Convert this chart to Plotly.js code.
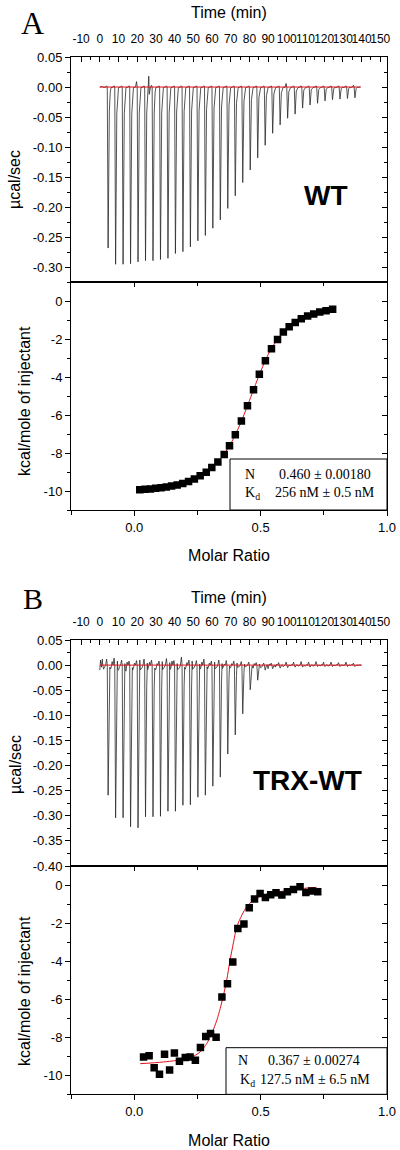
<!DOCTYPE html>
<html><head><meta charset="utf-8">
<script src="https://cdn.plot.ly/plotly-3.0.1.min.js"></script>
<style>html,body{margin:0;padding:0;background:#fff}#chart{width:400px;height:1150px}</style>
</head><body><div id="chart"></div>
<script>
// ---------- DATA ----------
// Panel A (WT) thermogram: injection times (min) and peak heights (µcal/sec)
const injTimesA = [4,8,12,16,20,24,28,32,36,40,44,48,52,56,60,64,68,72,76,80,84,88,92,96,100,104,108,112,116,120,124,128,132,136];
const peaksA = [-0.268,-0.295,-0.295,-0.294,-0.291,-0.289,-0.289,-0.287,-0.285,-0.277,-0.274,-0.266,-0.256,-0.247,-0.235,-0.221,-0.202,-0.181,-0.159,-0.138,-0.118,-0.097,-0.077,-0.063,-0.052,-0.045,-0.035,-0.030,-0.027,-0.023,-0.021,-0.020,-0.019,-0.018];
const preA = [0.002,0.002,0.002,0.002,0.009,0.002,0.003,0.002,0.002,0.002,0.002,0.002,0.002,0.002,0.002,0.002,0.002,0.002,0.002,0.002,0.002,0.002,0.002,0.002,0.006,0.002,0.002,0.002,0.002,0.002,0.002,0.002,0.002,0.003];
const midA = [-0.001,-0.001,-0.001,-0.001,-0.001,-0.001,-0.001,-0.001,-0.001,-0.001,-0.001,-0.001,-0.001,-0.001,-0.001,-0.001,-0.001,-0.001,-0.001,-0.001,-0.001,-0.001,-0.001,-0.001,-0.001,-0.001,-0.001,-0.001,-0.001,-0.001,-0.001,-0.001,-0.001,-0.001];
const startTA = [0, 1.5];
const startVA = [0.000, 0.001];
const artifactTA = [26.2, 26.45, 26.7];
const artifactVA = [0.018, -0.012, 0.000];
const endTA = 139.5;
const baselineTA = [0, 139.5];
const baselineVA = [0, 0];

// Panel A isotherm
const molarA = [0.022,0.043,0.064,0.085,0.106,0.127,0.148,0.170,0.192,0.215,0.238,0.261,0.285,0.307,0.331,0.356,0.377,0.400,0.424,0.448,0.472,0.495,0.519,0.543,0.567,0.590,0.613,0.637,0.661,0.686,0.710,0.734,0.759,0.785];
const heatA = [-9.93,-9.91,-9.89,-9.86,-9.83,-9.79,-9.74,-9.68,-9.60,-9.50,-9.36,-9.19,-9.01,-8.76,-8.47,-8.07,-7.62,-7.03,-6.31,-5.51,-4.66,-3.85,-3.13,-2.50,-2.01,-1.62,-1.34,-1.12,-0.92,-0.77,-0.67,-0.57,-0.50,-0.42];
const fitXA = [0.02,0.10,0.20,0.26,0.30,0.34,0.38,0.42,0.46,0.50,0.54,0.58,0.62,0.66,0.70,0.74,0.79];
const fitYA = [-9.92,-9.84,-9.57,-9.19,-8.84,-8.33,-7.55,-6.45,-5.09,-3.70,-2.55,-1.78,-1.27,-0.93,-0.71,-0.56,-0.41];

// Panel B (TRX-WT) thermogram
const injTimesB = [4,8,12,16,20,24,28,32,36,40,44,48,52,56,60,64,68,72,76,80,84,88,92,96,100,104,108,112,116,120,124,128,132,136];
const peaksB = [-0.259,-0.304,-0.304,-0.322,-0.324,-0.302,-0.302,-0.301,-0.291,-0.291,-0.279,-0.278,-0.263,-0.259,-0.241,-0.223,-0.177,-0.139,-0.097,-0.049,-0.030,-0.010,-0.007,-0.006,-0.005,-0.004,-0.004,-0.004,-0.003,-0.003,-0.003,-0.003,-0.003,-0.003];
const preB = [0.012,0.014,0.010,0.008,0.009,0.012,0.010,0.008,0.013,0.009,0.016,0.010,0.009,0.012,0.008,0.010,0.009,0.008,0.007,0.006,0.005,0.004,0.004,0.005,0.006,0.006,0.007,0.006,0.007,0.006,0.006,0.005,0.006,0.004];
const midB = [-0.008,-0.006,-0.010,-0.012,-0.006,-0.008,-0.005,-0.009,-0.007,-0.006,-0.008,-0.005,-0.007,-0.006,-0.005,-0.006,-0.004,-0.005,-0.004,-0.003,-0.006,-0.005,-0.007,-0.004,-0.003,-0.002,-0.002,-0.002,-0.002,-0.002,-0.002,-0.001,-0.001,-0.001];
const noise1B = [0.006,-0.004,0.008,0.003,-0.005,0.010,0.004,-0.006,0.007,0.005,0.003,-0.004,0.008,0.002,-0.003,0.006,0.003,-0.002,0.004,0.002,-0.003,0.002,0.001,-0.002,0.001,0.000,0.001,-0.001,0.001,0.000,0.001,-0.001,0.001,0.000];
const noise2B = [-0.004,0.007,-0.003,0.006,0.004,-0.005,0.006,0.003,-0.004,0.008,-0.006,0.005,-0.003,0.006,0.004,-0.004,0.002,0.003,-0.003,-0.002,0.003,-0.004,0.002,0.002,-0.002,0.001,-0.001,0.001,-0.001,0.001,-0.001,0.001,0.000,0.001];
const startTB = [0, 0.4, 0.9, 1.4];
const startVB = [-0.010, 0.010, -0.004, 0.012];
const artifactTB = [];
const artifactVB = [];
const endTB = 140;
const baselineTB = [0, 140];
const baselineVB = [0, 0];

// Panel B isotherm
const molarB = [0.037,0.059,0.079,0.100,0.120,0.140,0.159,0.179,0.202,0.221,0.242,0.262,0.283,0.302,0.324,0.347,0.369,0.390,0.410,0.434,0.455,0.476,0.498,0.519,0.540,0.561,0.584,0.606,0.630,0.656,0.679,0.702,0.726];
const heatB = [-9.04,-8.98,-9.61,-9.95,-8.89,-9.72,-8.83,-9.26,-9.07,-9.04,-9.21,-8.54,-7.96,-7.81,-8.00,-5.88,-5.19,-4.05,-2.28,-2.05,-1.19,-0.74,-0.44,-0.65,-0.51,-0.40,-0.53,-0.35,-0.23,-0.09,-0.39,-0.32,-0.35];
const fitXB = [0.024,0.116,0.221,0.261,0.287,0.307,0.327,0.340,0.353,0.366,0.379,0.393,0.406,0.426,0.445,0.472,0.511,0.577,0.643,0.722];
const fitYB = [-9.39,-9.30,-9.09,-8.77,-8.33,-7.80,-7.10,-6.50,-5.80,-5.00,-3.96,-3.00,-2.20,-1.58,-1.14,-0.79,-0.53,-0.35,-0.21,-0.12];

// Tick labels
const timeTicks = [-10,0,10,20,30,40,50,60,70,80,90,100,110,120,130,140,150];
const powerTicksA = [0.05,0.00,-0.05,-0.10,-0.15,-0.20,-0.25,-0.30];
const powerTicksB = [0.05,0.00,-0.05,-0.10,-0.15,-0.20,-0.25,-0.30,-0.35,-0.40];
const heatTicks = [0,-2,-4,-6,-8,-10];
const ratioTicks = [0.0,0.5,1.0];

// Texts
const fitTextA = {n:'0.460 ± 0.00180', kd:'256 nM ± 0.5 nM'};
const fitTextB = {n:'0.367 ± 0.00274', kd:'127.5 nM ± 6.5 nM'};

// ---------- BUILD ----------
function thermo(times, peaks, pre, mid, n1, n2, sT, sV, aT, aV, endT) {
  const pts = [];
  sT.forEach((t,i)=>pts.push([t, sV[i]]));
  times.forEach((t,i)=>{
    if (n1) pts.push([t-2.6, n1[i]]);
    pts.push([t-2.0, mid[i]]);
    if (n2) pts.push([t-1.4, n2[i]]);
    pts.push([t-0.9, 0]);
    pts.push([t-0.35, pre[i]]);
    pts.push([t, 0]);
    pts.push([t+0.45, peaks[i]]);
    pts.push([t+1.1, peaks[i]*0.15]);
    pts.push([t+1.6, peaks[i]*0.03]);
  });
  aT.forEach((t,i)=>pts.push([t, aV[i]]));
  pts.push([endT, 0]);
  pts.sort((a,b)=>a[0]-b[0]);
  return {x:pts.map(p=>p[0]), y:pts.map(p=>p[1])};
}
const tA = thermo(injTimesA, peaksA, preA, midA, null, null, startTA, startVA, artifactTA, artifactVA, endTA);
const tB = thermo(injTimesB, peaksB, preB, midB, noise1B, noise2B, startTB, startVB, artifactTB, artifactVB, endTB);

const FONT = 'Liberation Sans, Arial, sans-serif';
const SERIF = 'Liberation Serif, Times New Roman, serif';
const W = 400, H = 1150;
const px = v => v / W;
const py = v => 1 - v / H;
const XD = [px(71), px(387)];
const DOM = {
  aTop: [py(282.3), py(57)],
  aBot: [py(510), py(282.3)],
  bTop: [py(866), py(640)],
  bBot: [py(1094.3), py(866)]
};

const base = {showgrid:false, zeroline:false, showline:true, linecolor:'#000', linewidth:1,
  tickcolor:'#000', tickwidth:1, tickfont:{family:FONT, size:13, color:'#000'}, fixedrange:true, tickangle:0};
const titleFont = {family:FONT, size:16, color:'#000'};

function timeAxis(anchor) {
  return Object.assign({}, base, {domain:XD, anchor:anchor, side:'top', range:[-15.4,153.6],
    tickmode:'array', tickvals:timeTicks, ticktext:timeTicks.map(String),
    tickfont:{family:FONT, size:12, color:'#000'}, ticklabelstandoff:8,
    ticks:'inside', ticklen:5, mirror:true,
    minor:{tickmode:'linear', tick0:-10, dtick:5, ticks:'inside', ticklen:3, tickcolor:'#000'}});
}
function powerAxis(dom, anchor, ticks, range) {
  return Object.assign({}, base, {domain:dom, anchor:anchor, range:range,
    tickmode:'array', tickvals:ticks, ticktext:ticks.map(v=>v.toFixed(2)),
    ticks:'outside', ticklen:5, mirror:true,
    minor:{tickmode:'linear', tick0:0, dtick:0.025, ticks:'outside', ticklen:3, tickcolor:'#000'}});
}
function rightAxis(over, anchor, ticks, range, minorD) {
  return Object.assign({}, base, {overlaying:over, anchor:anchor, side:'right', range:range, showline:false,
    tickmode:'array', tickvals:ticks, ticks:'inside', ticklen:5, showticklabels:false,
    minor:{tickmode:'linear', tick0:0, dtick:minorD, ticks:'inside', ticklen:3, tickcolor:'#000'}});
}
function ratioAxis(anchor) {
  return Object.assign({}, base, {domain:XD, anchor:anchor, range:[-0.25,1.0],
    tickmode:'array', tickvals:ratioTicks, ticktext:ratioTicks.map(v=>v.toFixed(1)),
    ticks:'outside', ticklen:5, mirror:true,
    minor:{tickmode:'linear', tick0:0, dtick:0.25, ticks:'outside', ticklen:4, tickcolor:'#000'},
    title:{text:'Molar Ratio', font:titleFont, standoff:16}});
}
function topRatioAxis(over, anchor) {
  return Object.assign({}, base, {overlaying:over, anchor:anchor, side:'top', range:[-0.25,1.0], showline:false,
    tickmode:'array', tickvals:ratioTicks, ticks:'inside', ticklen:5, showticklabels:false,
    minor:{tickmode:'linear', tick0:0, dtick:0.25, ticks:'inside', ticklen:4, tickcolor:'#000'}});
}
function heatAxis(dom, anchor) {
  return Object.assign({}, base, {domain:dom, anchor:anchor, range:[-11,1],
    tickmode:'array', tickvals:heatTicks, ticktext:heatTicks.map(v=>String(v)),
    ticks:'outside', ticklen:5, mirror:true,
    minor:{tickmode:'linear', tick0:0, dtick:1, ticks:'outside', ticklen:3, tickcolor:'#000'}});
}

function txt(text, x, y, font, extra) {
  return Object.assign({text:text, xref:'paper', yref:'paper', x:px(x), y:py(y), xanchor:'center', yanchor:'middle',
    showarrow:false, font:font}, extra || {});
}
const serif14 = {family:SERIF, size:14, color:'#000'};

const layout = {
  width:W, height:H, autosize:false, showlegend:false,
  margin:{l:0, r:0, t:0, b:0, pad:0},
  paper_bgcolor:'#fff', plot_bgcolor:'rgba(0,0,0,0)',
  font:{family:FONT, color:'#000'},
  xaxis: timeAxis('y'),
  yaxis: powerAxis(DOM.aTop, 'x', powerTicksA, [-0.325,0.05]),
  yaxis5: rightAxis('y', 'x', powerTicksA, [-0.325,0.05], 0.025),
  xaxis2: ratioAxis('y2'),
  yaxis2: heatAxis(DOM.aBot, 'x2'),
  xaxis6: topRatioAxis('x2', 'y2'),
  yaxis6: rightAxis('y2', 'x2', heatTicks, [-11,1], 1),
  xaxis3: timeAxis('y3'),
  yaxis3: powerAxis(DOM.bTop, 'x3', powerTicksB, [-0.40,0.05]),
  yaxis7: rightAxis('y3', 'x3', powerTicksB, [-0.40,0.05], 0.025),
  xaxis4: ratioAxis('y4'),
  yaxis4: heatAxis(DOM.bBot, 'x4'),
  xaxis8: topRatioAxis('x4', 'y4'),
  yaxis8: rightAxis('y4', 'x4', heatTicks, [-11,1], 1),
  shapes: [
    {type:'rect', xref:'paper', yref:'paper', x0:px(230), x1:px(387), y0:py(510), y1:py(459),
     line:{color:'#000', width:1}, fillcolor:'#fff', layer:'above'},
    {type:'rect', xref:'paper', yref:'paper', x0:px(226), x1:px(387), y0:py(1094.3), y1:py(1047.7),
     line:{color:'#000', width:1}, fillcolor:'#fff', layer:'above'}
  ],
  annotations: [
    txt('A', 32, 23, {family:SERIF, size:32, color:'#000'}),
    txt('B', 33, 599, {family:SERIF, size:30, color:'#000'}),
    txt('Time (min)', 229, 13, titleFont),
    txt('Time (min)', 229, 597, titleFont),
    txt('<b>WT</b>', 326, 196, {family:FONT, size:28, color:'#000'}),
    txt('<b>TRX-WT</b>', 307, 780, {family:FONT, size:28, color:'#000'}),
    txt('µcal/sec', 15, 180, titleFont, {textangle:-90}),
    txt('kcal/mole of injectant', 24, 401, titleFont, {textangle:-90}),
    txt('µcal/sec', 15, 765, titleFont, {textangle:-90}),
    txt('kcal/mole of injectant', 24, 991, titleFont, {textangle:-90}),
    txt('N', 243, 474, serif14, {xanchor:'left'}),
    txt(fitTextA.n, 277, 474, serif14, {xanchor:'left'}),
    txt('K<sub>d</sub>', 243, 493, serif14, {xanchor:'left'}),
    txt(fitTextA.kd, 273, 492, serif14, {xanchor:'left'}),
    txt('N', 236, 1060.5, serif14, {xanchor:'left'}),
    txt(fitTextB.n, 266, 1060.5, serif14, {xanchor:'left'}),
    txt('K<sub>d</sub>', 238, 1080, serif14, {xanchor:'left'}),
    txt(fitTextB.kd, 258, 1079, serif14, {xanchor:'left'})
  ]
};

const red = '#e3101a';
const traces = [
  {type:'scatter', mode:'lines', x:tA.x, y:tA.y, xaxis:'x', yaxis:'y', line:{color:'#2a2a2a', width:0.8}, hoverinfo:'skip'},
  {type:'scatter', mode:'lines', x:baselineTA, y:baselineVA, xaxis:'x', yaxis:'y', line:{color:red, width:1}, hoverinfo:'skip'},
  {type:'scatter', mode:'lines', x:fitXA, y:fitYA, xaxis:'x2', yaxis:'y2', line:{color:red, width:1, shape:'spline', smoothing:0.8}},
  {type:'scatter', mode:'markers', x:molarA, y:heatA, xaxis:'x2', yaxis:'y2', marker:{symbol:'square', size:7.5, color:'#000'}},
  {type:'scatter', mode:'lines', x:tB.x, y:tB.y, xaxis:'x3', yaxis:'y3', line:{color:'#2a2a2a', width:0.8}, hoverinfo:'skip'},
  {type:'scatter', mode:'lines', x:baselineTB, y:baselineVB, xaxis:'x3', yaxis:'y3', line:{color:red, width:1}, hoverinfo:'skip'},
  {type:'scatter', mode:'lines', x:fitXB, y:fitYB, xaxis:'x4', yaxis:'y4', line:{color:red, width:1, shape:'spline', smoothing:0.8}},
  {type:'scatter', mode:'markers', x:molarB, y:heatB, xaxis:'x4', yaxis:'y4', marker:{symbol:'square', size:7.5, color:'#000'}},
  {type:'scatter', x:[], y:[], xaxis:'x', yaxis:'y5'},
  {type:'scatter', x:[], y:[], xaxis:'x6', yaxis:'y2'},
  {type:'scatter', x:[], y:[], xaxis:'x2', yaxis:'y6'},
  {type:'scatter', x:[], y:[], xaxis:'x3', yaxis:'y7'},
  {type:'scatter', x:[], y:[], xaxis:'x8', yaxis:'y4'},
  {type:'scatter', x:[], y:[], xaxis:'x4', yaxis:'y8'}
];

Plotly.newPlot('chart', traces, layout, {staticPlot:true, displayModeBar:false});
</script></body></html>
